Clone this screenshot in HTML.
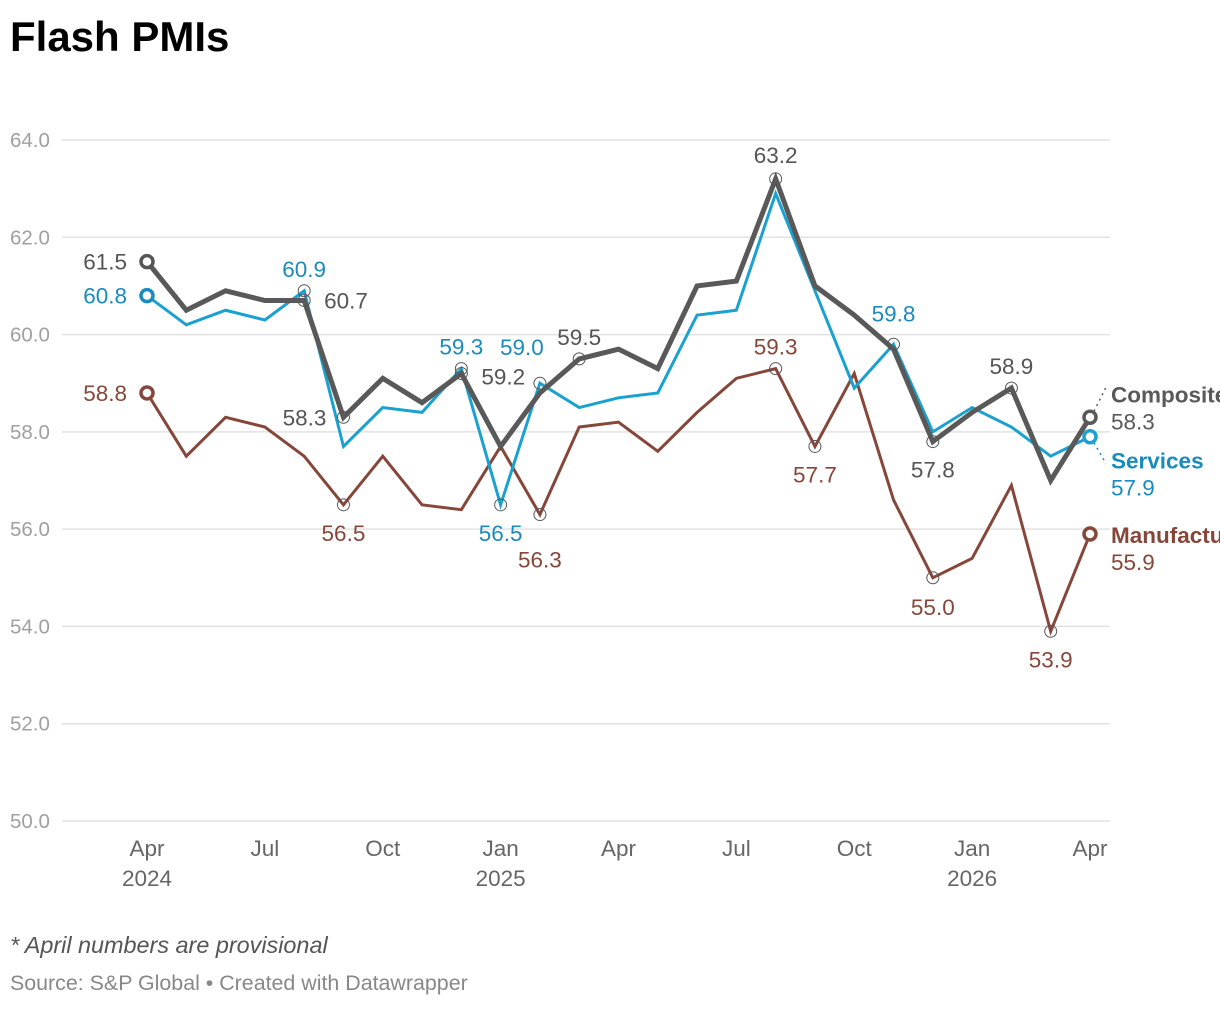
<!DOCTYPE html>
<html><head><meta charset="utf-8"><style>
body{margin:0;background:#fff;width:1220px;height:1006px;overflow:hidden;font-family:"Liberation Sans",sans-serif}
svg text{font-family:"Liberation Sans",sans-serif}
</style></head><body>
<svg id="c" width="1220" height="1006">
<text x="10" y="51" font-size="42" font-weight="bold" fill="#000">Flash PMIs</text>
<text x="10" y="953" font-size="23.4" font-style="italic" fill="#555">* April numbers are provisional</text>
<text x="10" y="990" font-size="21.4" fill="#888">Source: S&amp;P Global • Created with Datawrapper</text>
</svg>
<script>
const months=["Apr 2024","May","Jun","Jul","Aug","Sep","Oct","Nov","Dec","Jan 2025","Feb","Mar","Apr","May","Jun","Jul","Aug","Sep","Oct","Nov","Dec","Jan 2026","Feb","Mar","Apr"];
const composite=[61.5,60.5,60.9,60.7,60.7,58.3,59.1,58.6,59.2,57.7,58.8,59.5,59.7,59.3,61.0,61.1,63.2,61.0,60.4,59.7,57.8,58.4,58.9,57.0,58.3];
const services=[60.8,60.2,60.5,60.3,60.9,57.7,58.5,58.4,59.3,56.5,59.0,58.5,58.7,58.8,60.4,60.5,62.9,60.9,58.9,59.8,58.0,58.5,58.1,57.5,57.9];
const manufacturing=[58.8,57.5,58.3,58.1,57.5,56.5,57.5,56.5,56.4,57.7,56.3,58.1,58.2,57.6,58.4,59.1,59.3,57.7,59.2,56.6,55.0,55.4,56.9,53.9,55.9];
const yTicks=[50,52,54,56,58,60,62,64];
const xTickIdx=[0,3,6,9,12,15,18,21,24];
const xTickTop=["Apr","Jul","Oct","Jan","Apr","Jul","Oct","Jan","Apr"];
const xTickBottom=["2024","","","2025","","","","2026",""];
const compLabelIdx=[0,4,5,8,11,16,20,22];
const servLabelIdx=[0,4,8,9,10,19];
const manuLabelIdx=[0,5,10,16,17,20,23];

const NS="http://www.w3.org/2000/svg";
const svg=document.getElementById('c');
const X=i=>147+i*(1090-147)/24;
const Y=v=>821-(v-50)*(821-140)/14;
function mk(t,a,p){const e=document.createElementNS(NS,t);for(const k in a)e.setAttribute(k,a[k]);(p||svg).appendChild(e);return e;}
yTicks.forEach(v=>{
  const g=mk('line',{x1:62,x2:1110,y1:Y(v),y2:Y(v),stroke:'#e2e2e2','stroke-width':1.5});
  
  
  const t=mk('text',{x:10,y:Y(v)+7,'font-size':20.5,fill:'#a0a0a0'});t.textContent=v.toFixed(1);
  
  
});
xTickIdx.forEach((m,k)=>{
  const t=mk('text',{x:X(m),y:856,'font-size':22.5,fill:'#666','text-anchor':'middle'});t.textContent=xTickTop[k];
  
  
  if(xTickBottom[k]){const t2=mk('text',{x:X(m),y:886,'font-size':22.5,fill:'#666','text-anchor':'middle'});t2.textContent=xTickBottom[k];
  
  }
});
function line(data,col,w,name){
  const p=mk('polyline',{points:data.map((v,i)=>X(i)+','+Y(v)).join(' '),fill:'none',stroke:col,'stroke-width':w,'stroke-linejoin':'miter'});
  
  
}
line(manufacturing,'#86473a',3,'manufacturing-line');
line(services,'#1aa1cf',3,'services-line');
line(composite,'#595959',5,'composite-line');
function labels(data,idx,col,offs,name){
  idx.forEach((i,k)=>{
    const c=mk('circle',{cx:X(i),cy:Y(data[i]),r:6,fill:'none',stroke:'#555','stroke-width':1});
    
    
    if(i===0){const b=mk('circle',{cx:X(i),cy:Y(data[i]),r:6,fill:'#fff',stroke:col,'stroke-width':3.5});
      
      }
    const o=offs[k];
    const t=mk('text',{x:X(i)+o[0],y:Y(data[i])+o[1],'font-size':22.5,fill:col,'text-anchor':o[2]||'middle'});
    t.textContent=data[i].toFixed(1);
    
    
  });
}
labels(composite,compLabelIdx,'#555',[[-20,8,'end'],[20,8,'start'],[-17,8,'end'],[20,11,'start'],[0,-14],[0,-16],[0,36],[0,-14]],'composite');
labels(services,servLabelIdx,'#1a8bbd',[[-20,8,'end'],[0,-14],[0,-14],[0,36],[-18,-28],[0,-23]],'services');
labels(manufacturing,manuLabelIdx,'#86473a',[[-20,8,'end'],[0,36],[0,53],[0,-14],[0,36],[0,37],[0,36]],'manufacturing');
[[composite,'#595959','composite'],[services,'#1aa1cf','services'],[manufacturing,'#86473a','manufacturing']].forEach(([d,c,n])=>{
  const e=mk('circle',{cx:X(24),cy:Y(d[24]),r:6,fill:'#fff',stroke:c,'stroke-width':3.5});
  
  
});
const legend=[["Composite",composite,'#595959',-16],["Services",services,'#1a8bbd',31],["Manufacturing",manufacturing,'#86473a',8]];
legend.forEach(([nm,d,c,dy])=>{
  const y0=Y(d[24])+dy;
  if(nm!=="Manufacturing"){const l=mk('line',{x1:X(24)+4,y1:Y(d[24])+(dy<0?-6:6),x2:1106,y2:y0+(dy<0?-14:-4),stroke:c,'stroke-width':1.5,'stroke-dasharray':'2,4'});
    
    }
  const t=mk('text',{x:1111,y:y0+1,'font-size':22.5,'font-weight':'bold',fill:c});t.textContent=nm;
  
  
  const v=mk('text',{x:1111,y:y0+28,'font-size':22.5,fill:c});v.textContent=d[24].toFixed(1);
  
  
});
</script>
</body></html>
